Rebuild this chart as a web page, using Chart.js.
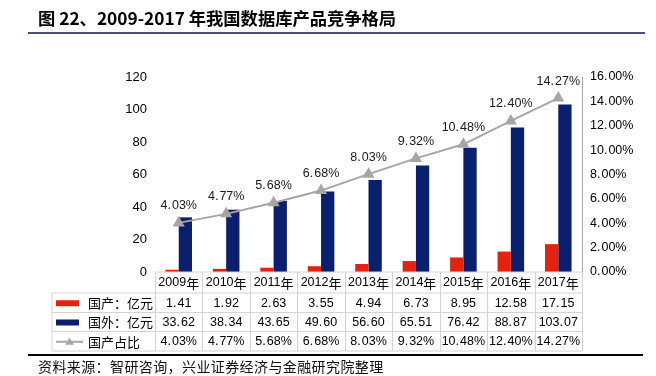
<!DOCTYPE html>
<html>
<head>
<meta charset="utf-8">
<script src="https://cdn.jsdelivr.net/npm/chart.js@4"></script>
<style>
  body { margin: 0; background: #fff; }
  #wrap { position: relative; width: 656px; height: 376px; }
  #title { position: absolute; left: 38px; top: 5px; font: bold 17.3px "Noto Sans CJK SC", "Liberation Sans", sans-serif; color: #000; white-space: nowrap; }
  #titleLine { position: absolute; left: 28px; top: 32px; width: 617px; height: 2px; background: #4b4d82; }
  #bottomLine { position: absolute; left: 28px; top: 354px; width: 615px; height: 1.5px; background: #000; }
  #source { position: absolute; left: 38px; top: 356px; font: 14px "Noto Sans CJK SC", sans-serif; letter-spacing: 0.4px; color: #111; white-space: nowrap; }
</style>
</head>
<body>
<div id="wrap">
  <canvas id="c" width="656" height="376"></canvas>
  <div id="title">图 22、2009-2017 年我国数据库产品竞争格局</div>
  <div id="titleLine"></div>
  <div id="bottomLine"></div>
  <div id="source">资料来源：智研咨询，兴业证券经济与金融研究院整理</div>
</div>
<script>
const years = ['2009年', '2010年', '2011年', '2012年', '2013年', '2014年', '2015年', '2016年', '2017年'];
const domestic = [1.41, 1.92, 2.63, 3.55, 4.94, 6.73, 8.95, 12.58, 17.15];
const foreign = [33.62, 38.34, 43.65, 49.60, 56.60, 65.51, 76.42, 88.87, 103.07];
const share = [4.03, 4.77, 5.68, 6.68, 8.03, 9.32, 10.48, 12.40, 14.27];

const RED = '#e3220f';
const BLUE = '#0b1f6f';
const GRAY = '#a6a6a6';
const NUM_FAMILY = '"Liberation Sans", Arial, sans-serif';
const NUM_FONT = '12.5px ' + NUM_FAMILY;
const CJK_FONT = '13px "Noto Sans CJK SC", sans-serif';

// "4.03" -> "4. 03" like the original rendering
const fmt = (v) => v.toFixed(2).replace('.', '.\u200a');

const pointLabels = {
  id: 'pointLabels',
  afterDatasetsDraw(chart) {
    const ctx = chart.ctx;
    const meta = chart.getDatasetMeta(2);
    ctx.save();
    ctx.font = NUM_FONT;
    ctx.fillStyle = '#1a1a1a';
    ctx.textAlign = 'center';
    ctx.textBaseline = 'middle';
    meta.data.forEach((pt, i) => {
      ctx.fillText(fmt(share[i]) + '%', pt.x, pt.y - 17);
    });
    ctx.restore();
  }
};

const dataTable = {
  id: 'dataTable',
  afterDraw(chart) {
    const ctx = chart.ctx;
    const x = chart.scales.x;
    const cw = x.getPixelForValue(1) - x.getPixelForValue(0);
    const colLeft = x.getPixelForValue(0) - cw / 2;
    const colRight = x.getPixelForValue(years.length - 1) + cw / 2;
    const legLeft = 52;
    const rows = [272, 293, 312.5, 331.5, 351];

    ctx.save();
    ctx.strokeStyle = '#d4d4d4';
    ctx.lineWidth = 1;
    ctx.beginPath();
    ctx.moveTo(colLeft, rows[0]); ctx.lineTo(colRight, rows[0]);
    for (let r = 1; r < rows.length; r++) {
      ctx.moveTo(legLeft, rows[r]); ctx.lineTo(colRight, rows[r]);
    }
    ctx.moveTo(legLeft, rows[1]); ctx.lineTo(legLeft, rows[4]);
    for (let i = 0; i <= years.length; i++) {
      const px = Math.round(colLeft + i * cw) + 0.5;
      ctx.moveTo(px, rows[0]); ctx.lineTo(px, rows[4]);
    }
    ctx.stroke();

    ctx.fillStyle = '#000';
    ctx.textBaseline = 'middle';
    const mid = (r) => (rows[r] + rows[r + 1]) / 2 + 0.5;
    years.forEach((y, i) => {
      const cx = x.getPixelForValue(i);
      ctx.font = NUM_FONT;
      const num = y.slice(0, 4);
      const wNum = ctx.measureText(num).width;
      ctx.font = CJK_FONT;
      const wCh = ctx.measureText('年').width;
      const start = cx - (wNum + wCh) / 2;
      ctx.textAlign = 'left';
      ctx.font = NUM_FONT;
      ctx.fillText(num, start, mid(0));
      ctx.font = CJK_FONT;
      ctx.fillText('年', start + wNum, mid(0));
      ctx.textAlign = 'center';
      ctx.font = NUM_FONT;
      ctx.fillText(fmt(domestic[i]), cx, mid(1));
      ctx.fillText(fmt(foreign[i]), cx, mid(2));
      ctx.fillText(fmt(share[i]) + '%', cx, mid(3));
    });

    // legend cells
    ctx.fillStyle = RED;
    ctx.fillRect(56, mid(1) - 3, 23, 6);
    ctx.fillStyle = BLUE;
    ctx.fillRect(56, mid(2) - 3, 23, 6);
    ctx.strokeStyle = GRAY;
    ctx.lineWidth = 2;
    ctx.beginPath();
    ctx.moveTo(56, mid(3)); ctx.lineTo(83, mid(3));
    ctx.stroke();
    ctx.fillStyle = GRAY;
    ctx.beginPath();
    ctx.moveTo(69.5, mid(3) - 4); ctx.lineTo(74, mid(3) + 3); ctx.lineTo(65, mid(3) + 3);
    ctx.closePath();
    ctx.fill();

    ctx.fillStyle = '#000';
    ctx.font = CJK_FONT;
    ctx.textAlign = 'left';
    chart.data.datasets.forEach((d, r) => {
      ctx.fillText(d.label, 88, mid(r + 1));
    });
    ctx.restore();
  }
};

new Chart(document.getElementById('c'), {
  type: 'bar',
  data: {
    labels: years,
    datasets: [
      {
        label: '国产：亿元',
        data: domestic,
        backgroundColor: RED,
        yAxisID: 'y',
        categoryPercentage: 0.56,
        barPercentage: 1,
        order: 2
      },
      {
        label: '国外：亿元',
        data: foreign,
        backgroundColor: BLUE,
        yAxisID: 'y',
        categoryPercentage: 0.56,
        barPercentage: 1,
        order: 2
      },
      {
        type: 'line',
        label: '国产占比',
        data: share,
        yAxisID: 'y1',
        borderColor: GRAY,
        backgroundColor: GRAY,
        borderWidth: 2,
        pointStyle: 'triangle',
        pointRadius: 5,
        order: 0
      }
    ]
  },
  options: {
    responsive: false,
    animation: false,
    layout: { padding: { top: 77, bottom: 104, left: 0, right: 0 } },
    plugins: {
      legend: { display: false },
      tooltip: { enabled: false }
    },
    scales: {
      x: { display: false },
      y: {
        position: 'left',
        min: 0,
        max: 120,
        ticks: { stepSize: 20, padding: 8, color: '#000', font: { size: 13, family: NUM_FAMILY } },
        grid: { display: false, drawTicks: false },
        border: { display: false },
        afterFit: (s) => { s.width = 155; }
      },
      y1: {
        position: 'right',
        min: 0,
        max: 16,
        ticks: {
          stepSize: 2,
          padding: 8,
          color: '#000',
          font: { size: 12.5, family: NUM_FAMILY },
          callback: (v) => fmt(v) + '%'
        },
        grid: { display: false, drawTicks: false },
        border: { display: true, color: GRAY, width: 1 },
        afterFit: (s) => { s.width = 74; }
      }
    }
  },
  plugins: [pointLabels, dataTable]
});
</script>
</body>
</html>
